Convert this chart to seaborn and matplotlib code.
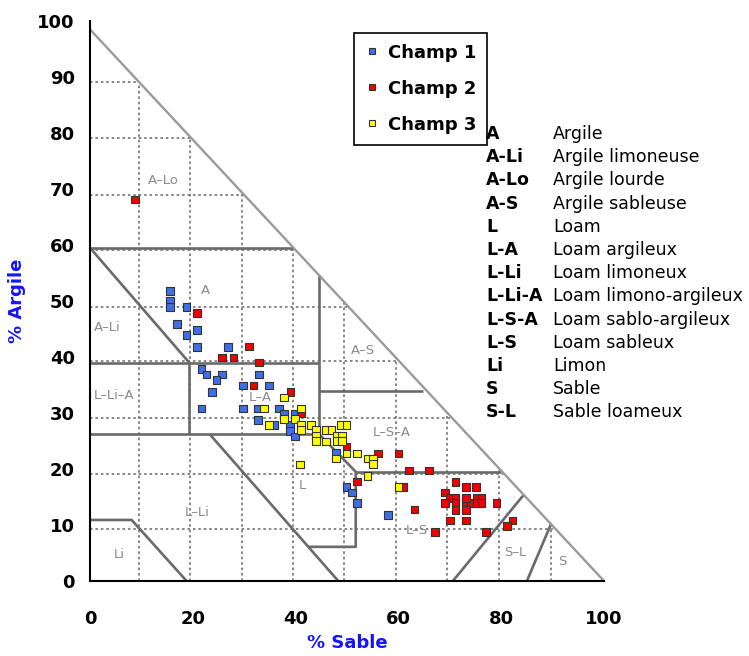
import numpy as np
import pandas as pd
import seaborn as sns
import matplotlib.pyplot as plt

# --- sample points (% sable, % argile) ---
champ1_sable = [15.6, 15.6, 15.6, 18.8, 16.9, 20.8, 18.8, 20.8, 26.8, 21.7,
                22.7, 25.7, 24.6, 32.9, 23.7, 29.8, 34.8, 21.7, 29.8, 32.7,
                36.8, 37.8, 39.9, 32.7, 35.9, 38.9, 38.9, 39.9, 47.9, 49.9,
                51.0, 51.9, 58.0]
champ1_argile = [51.8, 50.0, 48.9, 48.9, 45.9, 44.8, 43.9, 41.8, 41.8, 37.9,
                 36.9, 36.9, 35.9, 36.9, 33.7, 34.9, 34.9, 30.8, 30.8, 30.8,
                 30.8, 29.9, 29.9, 28.8, 27.9, 27.9, 26.8, 25.8, 22.9, 16.8,
                 15.8, 13.9, 11.8]

champ2_sable = [8.8, 20.8, 30.9, 25.7, 27.9, 32.9, 31.8, 39.0, 41.0, 49.9,
                56.0, 60.0, 62.1, 66.0, 61.0, 52.0, 63.1, 67.1, 71.1, 73.2,
                75.1, 69.1, 70.0, 71.1, 69.1, 71.1, 73.2, 74.1, 73.2, 75.2,
                76.2, 75.2, 76.2, 71.1, 73.2, 79.1, 70.0, 73.2, 77.0, 82.2,
                81.1]
champ2_argile = [68.1, 47.9, 41.9, 39.9, 39.9, 39.0, 34.9, 33.7, 29.9, 23.9,
                 22.8, 22.8, 19.7, 19.7, 16.8, 17.8, 12.8, 8.8, 17.7, 16.8,
                 16.8, 15.8, 14.8, 14.8, 13.9, 13.9, 13.9, 13.9, 14.8, 14.8,
                 14.8, 13.9, 13.9, 12.7, 12.7, 13.9, 10.8, 10.8, 8.8, 10.8,
                 9.8]

champ3_sable = [37.8, 33.9, 41.0, 37.8, 39.9, 34.8, 41.0, 43.0, 41.0, 44.0,
                44.0, 44.0, 45.9, 47.0, 48.8, 49.9, 45.9, 48.0, 49.0, 48.0,
                49.0, 49.9, 52.0, 47.9, 54.0, 55.0, 55.0, 54.0, 40.9, 60.0]
champ3_argile = [32.8, 30.8, 30.8, 28.9, 28.9, 27.9, 27.9, 27.9, 27.0, 27.0,
                 26.0, 25.0, 27.0, 27.0, 27.9, 27.9, 24.9, 25.9, 25.9, 25.0,
                 25.0, 22.8, 22.8, 21.9, 21.9, 21.9, 20.9, 18.8, 20.8, 16.8]

champ_names = ["Champ 1", "Champ 2", "Champ 3"]
champ_colors = ["#3f6fe6", "#f50000", "#ffff00"]

# --- texture triangle (scanned background) ---
hyp_sable = [0, 100]
hyp_argile = [98.5, 0]
grid_sable = [9.6, 19.5, 29.5, 39.5, 49.5, 59.6, 69.5, 79.6, 89.6]
grid_argile = [9.2, 19.1, 29.1, 39.2, 49.0, 59.1, 69.0, 79.1, 89.1]

boundaries = [
    ([0, 39.5], [59.5, 59.5]),
    ([0, 19.3], [59.5, 39.0]),
    ([0, 44.6], [39.0, 39.0]),
    ([44.6, 44.6], [54.6, 26.2]),
    ([44.6, 64.8], [34.0, 34.0]),
    ([19.3, 19.3], [39.0, 26.2]),
    ([0, 44.6], [26.2, 26.2]),
    ([23.3, 48.3], [26.2, 0]),
    ([44.6, 51.7, 51.7, 42.4], [26.2, 19.5, 6.1, 6.1]),
    ([51.7, 80.0], [19.5, 19.5]),
    ([70.6, 84.4], [0, 15.4]),
    ([85.0, 89.7], [0, 10.2]),
    ([0, 8.1, 18.8], [10.9, 10.9, 0]),
]

zone_labels = ["A–Lo", "A", "A–Li", "L–Li–A", "L–A", "A–S", "L–S–A",
               "L", "L–Li", "Li", "L–S", "S–L", "S"]
zone_sable = [14.2, 22.4, 3.3, 4.6, 33.2, 53.2, 58.7, 41.4, 20.8, 5.6,
              63.6, 82.7, 91.8]
zone_argile = [71.6, 51.8, 45.2, 33.2, 32.7, 41.2, 26.6, 17.1, 12.3, 4.8,
               9.1, 5.0, 3.4]

# --- key table ---
key_codes = ["A", "A-Li", "A-Lo", "A-S", "L", "L-A", "L-Li", "L-Li-A",
             "L-S-A", "L-S", "Li", "S", "S-L"]
key_names = ["Argile", "Argile limoneuse", "Argile lourde", "Argile sableuse",
             "Loam", "Loam argileux", "Loam limoneux", "Loam limono-argileux",
             "Loam sablo-argileux", "Loam sableux", "Limon", "Sable",
             "Sable loameux"]


def build_frame():
    parts = []
    for name, s, a in zip(champ_names,
                          [champ1_sable, champ2_sable, champ3_sable],
                          [champ1_argile, champ2_argile, champ3_argile]):
        parts.append(pd.DataFrame({"sable": s, "argile": a, "champ": name}))
    return pd.concat(parts, ignore_index=True)


def draw_triangle(ax):
    grid_kw = dict(color="#7c7c7c", lw=1.3, ls=(0, (1.4, 1.6)), zorder=1)
    for gx in grid_sable:
        top = np.interp(gx, hyp_sable, hyp_argile)
        ax.plot([gx, gx], [0, top], **grid_kw)
    for gy in grid_argile:
        right = np.interp(gy, hyp_argile[::-1], hyp_sable[::-1])
        ax.plot([0, right], [gy, gy], **grid_kw)
    for xs, ys in boundaries:
        ax.plot(xs, ys, color="#6a6a6a", lw=1.9, zorder=2,
                solid_capstyle="butt")
    ax.plot(hyp_sable, hyp_argile, color="#9a9a9a", lw=1.7, zorder=2)
    for lab, x, y in zip(zone_labels, zone_sable, zone_argile):
        ax.text(x, y, lab, color="#8a8a8a", fontsize=9.5, ha="center",
                va="center", zorder=2)


def main():
    sns.set_style("white")
    plt.rcParams["font.family"] = ["DejaVu Sans"]
    plt.rcParams["text.color"] = "black"
    plt.rcParams["axes.labelcolor"] = "black"
    plt.rcParams["xtick.color"] = "black"
    plt.rcParams["ytick.color"] = "black"

    fig = plt.figure(figsize=(7.49, 6.56), dpi=100)
    ax = fig.add_axes([90 / 749, 75 / 656, 514 / 749, 560 / 656])

    draw_triangle(ax)

    df = build_frame()
    sns.scatterplot(data=df, x="sable", y="argile", hue="champ",
                    hue_order=champ_names, palette=champ_colors,
                    marker="s", s=30, edgecolor="#333333", linewidth=0.8,
                    ax=ax, zorder=3)

    ax.set_xlim(0, 100)
    ax.set_ylim(0, 100)
    ax.set_xticks(np.arange(0, 101, 20))
    ax.set_yticks(np.arange(0, 101, 10))
    for side in ["top", "right"]:
        ax.spines[side].set_visible(False)
    for side in ["left", "bottom"]:
        ax.spines[side].set_color("black")
        ax.spines[side].set_linewidth(1.5)
    ax.tick_params(axis="both", direction="out", length=5, width=1.2,
                   color="black", labelcolor="black", labelsize=13)
    ax.tick_params(axis="x", pad=16)
    ax.tick_params(axis="y", pad=6)
    for t in ax.get_xticklabels() + ax.get_yticklabels():
        t.set_fontweight("heavy")

    ax.set_xlabel("% Sable", color="#1414ff", fontsize=13, fontweight="bold")
    ax.set_ylabel("% Argile", color="#1414ff", fontsize=13, fontweight="bold")
    ax.xaxis.set_label_coords(0.5, -0.095)
    ax.yaxis.set_label_coords(-0.125, 0.5)

    handles, labels = ax.get_legend_handles_labels()
    leg = ax.legend(handles, labels, loc="upper left",
                    bbox_to_anchor=(0.496, 0.995), frameon=True,
                    fancybox=False, edgecolor="black", framealpha=1,
                    prop={"weight": "bold", "size": 13}, labelspacing=1.0,
                    handlelength=0.8, handletextpad=0.5, borderpad=0.6,
                    markerscale=0.8)
    leg.get_frame().set_linewidth(1.2)
    for t in leg.get_texts():
        t.set_color("black")

    for i, (code, name) in enumerate(zip(key_codes, key_names)):
        y = 1 - (134 + i * 23.2) / 656
        fig.text(486 / 749, y, code, fontsize=12.5, fontweight="bold",
                 color="black", va="center", ha="left")
        fig.text(553 / 749, y, name, fontsize=12.5, color="black",
                 va="center", ha="left")

    fig.savefig("out.png", dpi=100)


if __name__ == "__main__":
    main()
